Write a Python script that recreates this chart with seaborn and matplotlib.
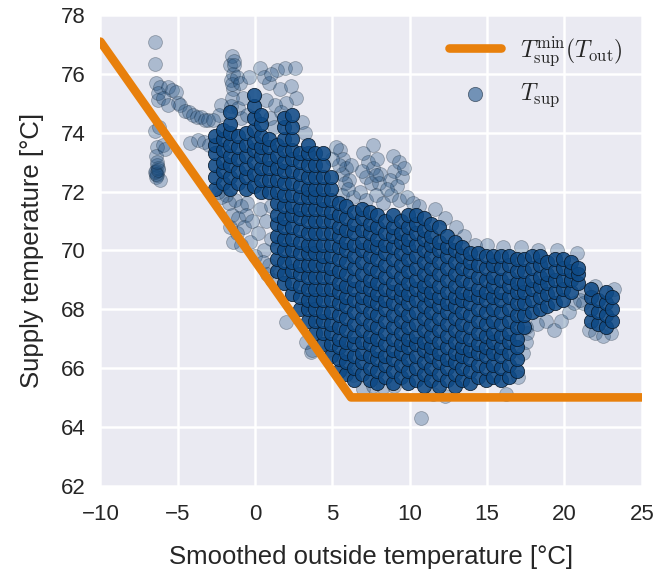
import matplotlib
matplotlib.use("Agg")
import matplotlib.pyplot as plt
import seaborn as sns
import pandas as pd

# ---------------- data ----------------
# minimum supply temperature curve
line_out = [-10.0, 6.2, 25.0]
line_sup = [77.1, 65.0, 65.0]

# dense core: column positions (outside temp) and supply temps in each column
core_a_cols = [-2.6, -2.1, -1.6, -1.1, -0.6, -0.1, 0.4, 0.9]
core_a_sup = [
    [72.1, 72.5, 72.9, 73.3, 73.6, 73.9],
    [72.3, 72.7, 73.0, 73.4, 73.8, 74.1],
    [72.1, 72.5, 72.9, 73.2, 73.6, 74.0, 74.3, 74.7],
    [72.3, 72.7, 73.1, 73.5, 73.9],
    [72.1, 72.5, 72.8, 73.2, 73.6, 74.0],
    [72.2, 72.6, 73.0, 73.4, 73.7, 74.1, 74.5, 74.9, 75.3],
    [72.0, 72.4, 72.8, 73.2, 73.5, 73.9, 74.3, 74.6],
    [72.0, 72.4, 72.8, 73.1, 73.5, 73.8],
]

core_b_cols = [1.4, 1.9, 2.4, 2.9, 3.4, 3.9, 4.4, 4.9]
core_b_sup = [
    [69.3, 69.7, 70.1, 70.5, 70.9, 71.2, 71.6, 72.0, 72.4, 72.8, 73.2, 73.6],
    [68.9, 69.2, 69.6, 70.0, 70.4, 70.8, 71.1, 71.5, 71.9, 72.3, 72.7, 73.0, 73.4, 73.8, 74.2, 74.5],
    [68.5, 68.9, 69.3, 69.6, 70.0, 70.4, 70.8, 71.2, 71.5, 71.9, 72.3, 72.7, 73.1, 73.4, 73.8, 74.2, 74.6],
    [68.0, 68.4, 68.8, 69.2, 69.5, 69.9, 70.3, 70.7, 71.1, 71.4, 71.8, 72.2, 72.6, 73.0, 73.3],
    [67.6, 68.0, 68.3, 68.7, 69.1, 69.5, 69.9, 70.2, 70.6, 71.0, 71.4, 71.8, 72.1, 72.5, 72.9, 73.3, 73.6],
    [67.2, 67.6, 68.0, 68.3, 68.7, 69.1, 69.5, 69.9, 70.2, 70.6, 71.0, 71.4, 71.8, 72.1, 72.5, 72.9, 73.3],
    [66.8, 67.2, 67.6, 67.9, 68.3, 68.7, 69.1, 69.5, 69.8, 70.2, 70.6, 71.0, 71.4, 71.7, 72.1, 72.5, 72.9, 73.3],
    [66.4, 66.8, 67.2, 67.5, 67.9, 68.3, 68.7, 69.1, 69.4, 69.8, 70.2, 70.6, 71.0, 71.3, 71.7, 72.1, 72.5],
]

core_c_cols = [5.4, 5.9, 6.4, 6.9, 7.4, 7.9, 8.4, 8.9, 9.4, 9.9, 10.4, 10.9,
               11.4, 11.9, 12.4, 12.9, 13.4, 13.9, 14.4, 14.9, 15.4, 15.9, 16.4, 16.9]
core_c_sup = [
    [65.9, 66.3, 66.7, 67.0, 67.4, 67.8, 68.2, 68.6, 68.9, 69.3, 69.7, 70.1, 70.5, 70.8, 71.2, 71.6],
    [65.8, 66.2, 66.5, 66.9, 67.3, 67.7, 68.1, 68.4, 68.8, 69.2, 69.6, 70.0, 70.3, 70.7, 71.1, 71.5],
    [65.6, 66.0, 66.4, 66.8, 67.1, 67.5, 67.9, 68.3, 68.7, 69.0, 69.4, 69.8, 70.2, 70.6, 70.9, 71.3],
    [65.8, 66.2, 66.5, 66.9, 67.3, 67.7, 68.1, 68.4, 68.8, 69.2, 69.6, 70.0, 70.3, 70.7, 71.1, 71.4],
    [65.6, 66.0, 66.4, 66.8, 67.1, 67.5, 67.9, 68.3, 68.7, 69.0, 69.4, 69.8, 70.2, 70.6, 70.9, 71.3],
    [65.5, 65.9, 66.3, 66.6, 67.0, 67.4, 67.8, 68.2, 68.5, 68.9, 69.3, 69.7, 70.1, 70.4, 70.8, 71.2],
    [65.7, 66.1, 66.4, 66.8, 67.2, 67.6, 68.0, 68.3, 68.7, 69.1, 69.5, 69.9, 70.2, 70.6, 71.0],
    [65.5, 65.9, 66.3, 66.6, 67.0, 67.4, 67.8, 68.2, 68.6, 68.9, 69.3, 69.7, 70.1, 70.5, 70.8, 71.2],
    [65.7, 66.1, 66.5, 66.8, 67.2, 67.6, 68.0, 68.4, 68.7, 69.1, 69.5, 69.9, 70.3, 70.6, 71.0],
    [65.5, 65.9, 66.3, 66.7, 67.0, 67.4, 67.8, 68.2, 68.5, 68.9, 69.3, 69.7, 70.1, 70.4, 70.8, 71.2],
    [65.6, 66.0, 66.4, 66.8, 67.1, 67.5, 67.9, 68.3, 68.7, 69.0, 69.4, 69.8, 70.2, 70.6, 70.9, 71.2],
    [65.4, 65.8, 66.2, 66.6, 66.9, 67.3, 67.7, 68.1, 68.5, 68.8, 69.2, 69.6, 70.0, 70.4, 70.7, 71.1],
    [65.6, 66.0, 66.4, 66.7, 67.1, 67.5, 67.9, 68.3, 68.6, 69.0, 69.4, 69.8, 70.2, 70.5, 70.9],
    [65.4, 65.8, 66.2, 66.5, 66.9, 67.3, 67.7, 68.1, 68.4, 68.8, 69.2, 69.6, 70.0, 70.3, 70.8],
    [65.6, 66.0, 66.3, 66.7, 67.1, 67.5, 67.9, 68.2, 68.6, 69.0, 69.4, 69.8, 70.1, 70.5],
    [65.4, 65.8, 66.2, 66.5, 66.9, 67.3, 67.7, 68.1, 68.4, 68.8, 69.2, 69.6, 70.0, 70.3],
    [65.6, 66.0, 66.4, 66.7, 67.1, 67.5, 67.9, 68.3, 68.6, 69.0, 69.4, 69.8, 70.1],
    [65.5, 65.9, 66.3, 66.6, 67.0, 67.4, 67.8, 68.2, 68.5, 68.9, 69.3, 69.6, 69.9],
    [65.7, 66.1, 66.5, 66.8, 67.2, 67.6, 68.0, 68.4, 68.7, 69.1, 69.5, 69.9],
    [65.6, 66.0, 66.4, 66.7, 67.1, 67.5, 67.9, 68.3, 68.6, 69.0, 69.4, 69.8],
    [65.7, 66.1, 66.5, 66.9, 67.2, 67.6, 68.0, 68.4, 68.8, 69.1, 69.5, 69.8],
    [65.6, 66.0, 66.4, 66.7, 67.1, 67.5, 67.9, 68.3, 68.6, 69.0, 69.4, 69.8],
    [65.7, 66.1, 66.5, 66.9, 67.2, 67.6, 68.0, 68.4, 68.8, 69.1, 69.5, 69.8],
    [65.9, 66.3, 66.7, 67.0, 67.4, 67.8, 68.2, 68.6, 68.9, 69.3, 69.7],
]

core_d_cols = [17.4, 17.9, 18.4, 18.9, 19.4, 19.9, 20.4, 20.9, 21.7, 22.2, 22.7, 23.1]
core_d_sup = [
    [67.4, 67.8, 68.2, 68.6, 68.9, 69.3, 69.7],
    [67.9, 68.3, 68.7, 69.0, 69.4, 69.8],
    [68.0, 68.4, 68.8, 69.1, 69.5, 69.8],
    [68.1, 68.5, 68.9, 69.2, 69.6],
    [68.2, 68.6, 69.0, 69.3, 69.7],
    [68.3, 68.7, 69.0, 69.4, 69.7],
    [68.6, 69.0, 69.3, 69.6],
    [68.9, 69.2, 69.4],
    [67.6, 68.0, 68.4, 68.7],
    [67.5, 67.9, 68.3],
    [67.4, 67.8, 68.2, 68.6],
    [67.6, 68.0, 68.4],
]

# sparse / scattered measurements
sparse_out = [
    -6.46, -6.5, -6.4, -6.15, -6.25, -6.3, -5.6, -5.35, -5.1, -5.0, -4.85, -4.55, -4.3, -4.0,
    -3.75, -3.5, -3.25, -3.05, -6.45, -6.2, -6.35, -6.4, -6.35, -6.4, -6.35, -6.4, -6.15,
    -5.95, -5.8, -4.2, -3.7, -3.3, -2.95, -6.3, -6.45, -5.94, -5.6, -6.4, -6.3, -6.35,
    -1.5, -1.6, -1.45, -1.55, -1.4, -1.5, -1.55, -1.35, -1.5,
    -1.35, -1.2, -1.0, -0.4, 0.3, 1.4, 1.95, 2.6, 0.9, 1.6, 2.3, 2.65, 0.7, 1.3, -2.2,
    -2.35, -2.7, -1.1, -0.9, 0.95, 1.2, 3.0, 3.2, -0.5, 0.6, 1.0, -0.8, 2.0, 1.7,
    -1.7, -1.3, -0.9, -0.5, -1.5, -1.1, -0.6, -1.6, -1.2, -0.7, -0.2, -1.4, -0.9, 0.2,
    0.3, 0.7, 1.0, 0.6, 1.0, -0.3, 0.0, 0.9, -1.9, -2.2, -2.4, 0.5, 0.8, 1.1,
    2.0, 3.6, 3.65, 3.3,
    5.5, 5.7, 5.9, 5.6, 6.1, 5.8, 6.2, 5.4,
    7.65, 7.0, 7.3, 7.6, 7.9, 8.1, 7.2, 6.9, 7.5, 8.0, 7.8,
    8.9, 9.3, 9.0, 9.5, 8.7, 9.2, 9.6,
    5.6, 6.3, 6.8, 7.2, 7.8, 8.3, 8.8, 9.3, 9.8, 10.2, 10.6, 6.0, 8.5, 5.2, 4.95,
    12.3, 13.0, 13.5, 14.2, 15.0, 16.0, 17.2, 18.3, 19.5, 20.8, 11.6,
    17.6, 18.2, 18.8, 19.3, 19.8, 20.3, 20.6, 21.3, 21.2, 21.6, 22.0, 22.5, 23.0, 23.2,
    22.0, 21.0,
    17.0, 17.3, 17.5, 17.5, 6.3, 7.0, 7.6, 8.3, 9.0, 11.5, 12.3, 16.2, 10.7, 6.0, 5.6, 4.7,
]
sparse_sup = [
    77.1, 76.35, 75.7, 75.55, 75.1, 75.35, 75.55, 75.45, 75.4, 75.0, 74.95, 74.75, 74.7, 74.6,
    74.55, 74.55, 74.45, 74.45, 74.05, 74.2, 73.5, 73.2, 72.9, 72.7, 72.55, 72.5, 72.4,
    73.6, 73.45, 73.65, 73.75, 73.7, 73.6, 72.8, 72.65, 75.18, 74.95, 72.6, 72.75, 73.0,
    76.6, 76.3, 76.0, 75.8, 75.5, 75.2, 74.9, 76.45, 75.65,
    76.3, 75.9, 75.7, 75.9, 76.2, 76.15, 76.2, 76.2, 75.7, 75.5, 75.6, 75.2, 75.1, 74.95, 74.95,
    74.6, 74.45, 74.85, 74.5, 74.5, 74.2, 74.35, 74.0, 74.6, 75.9, 76.0, 75.2, 75.0, 74.7,
    71.6, 71.7, 71.5, 71.6, 71.2, 71.1, 71.2, 70.8, 70.6, 70.8, 71.0, 70.3, 70.2, 70.6,
    71.4, 71.0, 70.4, 70.0, 71.5, 70.3, 69.8, 69.5, 71.9, 71.8, 72.0, 69.6, 69.2, 69.0,
    67.55, 66.55, 66.6, 66.9,
    73.4, 73.1, 72.8, 72.6, 72.4, 72.3, 72.9, 72.9,
    73.6, 73.3, 73.0, 72.8, 73.1, 72.6, 72.5, 72.7, 72.3, 72.3, 72.55,
    73.2, 73.0, 72.7, 72.5, 72.4, 72.2, 72.8,
    71.9, 71.8, 72.0, 71.7, 71.9, 71.6, 71.9, 71.7, 71.8, 71.6, 71.5, 72.1, 72.1, 73.5, 73.1,
    71.1, 70.8, 70.5, 70.2, 70.2, 70.1, 70.1, 70.0, 70.0, 69.9, 71.4,
    67.2, 67.5, 67.6, 67.3, 67.6, 67.9, 68.2, 68.6, 68.2, 67.3, 67.2, 67.1, 67.2, 68.7,
    68.8, 68.3,
    65.7, 66.5, 66.9, 67.4, 65.75, 65.3, 65.4, 65.35, 65.4, 65.1, 65.05, 65.1, 64.3, 66.1, 66.4, 66.6,
]

# ---------------- build table ----------------
core_out, core_sup = [], []
for cols, sups in [(core_a_cols, core_a_sup), (core_b_cols, core_b_sup),
                   (core_c_cols, core_c_sup), (core_d_cols, core_d_sup)]:
    for x, col in zip(cols, sups):
        for y in col:
            core_out.append(x)
            core_sup.append(y)

df_core = pd.DataFrame({"T_out": core_out, "T_sup": core_sup})
df_sparse = pd.DataFrame({"T_out": sparse_out, "T_sup": sparse_sup})
df_line = pd.DataFrame({"T_out": line_out, "T_sup": line_sup})

# ---------------- style ----------------
sns.set_style("darkgrid")
plt.rcParams["font.family"] = ["Liberation Sans", "DejaVu Sans"]
plt.rcParams["mathtext.fontset"] = "cm"
plt.rcParams["grid.linewidth"] = 1.8

fig = plt.figure(figsize=(6.7, 5.77), dpi=100)
ax = fig.add_axes([0.1499, 0.1584, 0.808, 0.8153])

dot_color = "#0f4a86"
sns.scatterplot(data=df_sparse, x="T_out", y="T_sup", ax=ax, color="#1a4c7e",
                alpha=0.3, s=100, edgecolor="#0a1a2a", linewidth=0.6, legend=False, zorder=2)
sns.scatterplot(data=df_core, x="T_out", y="T_sup", ax=ax, color=dot_color,
                alpha=0.88, s=105, edgecolor="#081828", linewidth=0.6, zorder=3,
                label=r"$T_{\mathrm{sup}}$")
sns.lineplot(data=df_line, x="T_out", y="T_sup", ax=ax, color="#e8800c", linewidth=6.2,
             solid_capstyle="round", solid_joinstyle="round", zorder=4,
             label=r"$T_{\mathrm{sup}}^{\mathrm{min}}(T_{\mathrm{out}})$")

ax.set_xlim(-10, 25)
ax.set_ylim(62, 78)
ax.set_xticks([-10, -5, 0, 5, 10, 15, 20, 25])
ax.set_yticks([62, 64, 66, 68, 70, 72, 74, 76, 78])
ax.tick_params(axis="x", labelsize=16, pad=10)
ax.tick_params(axis="y", labelsize=16, pad=7)
ax.set_xlabel("Smoothed outside temperature [°C]", fontsize=18.5, labelpad=14)
ax.set_ylabel("Supply temperature [°C]", fontsize=18.5, labelpad=12)

handles, labels = ax.get_legend_handles_labels()
order = [1, 0]
leg = ax.legend([handles[i] for i in order], [labels[i] for i in order],
                loc="upper right", frameon=False, fontsize=17, handlelength=2.2,
                borderaxespad=0.4, labelspacing=0.6)
for lh in leg.legend_handles:
    if not hasattr(lh, "get_xydata"):
        lh.set_alpha(0.55)

fig.savefig("out.png", dpi=100)
